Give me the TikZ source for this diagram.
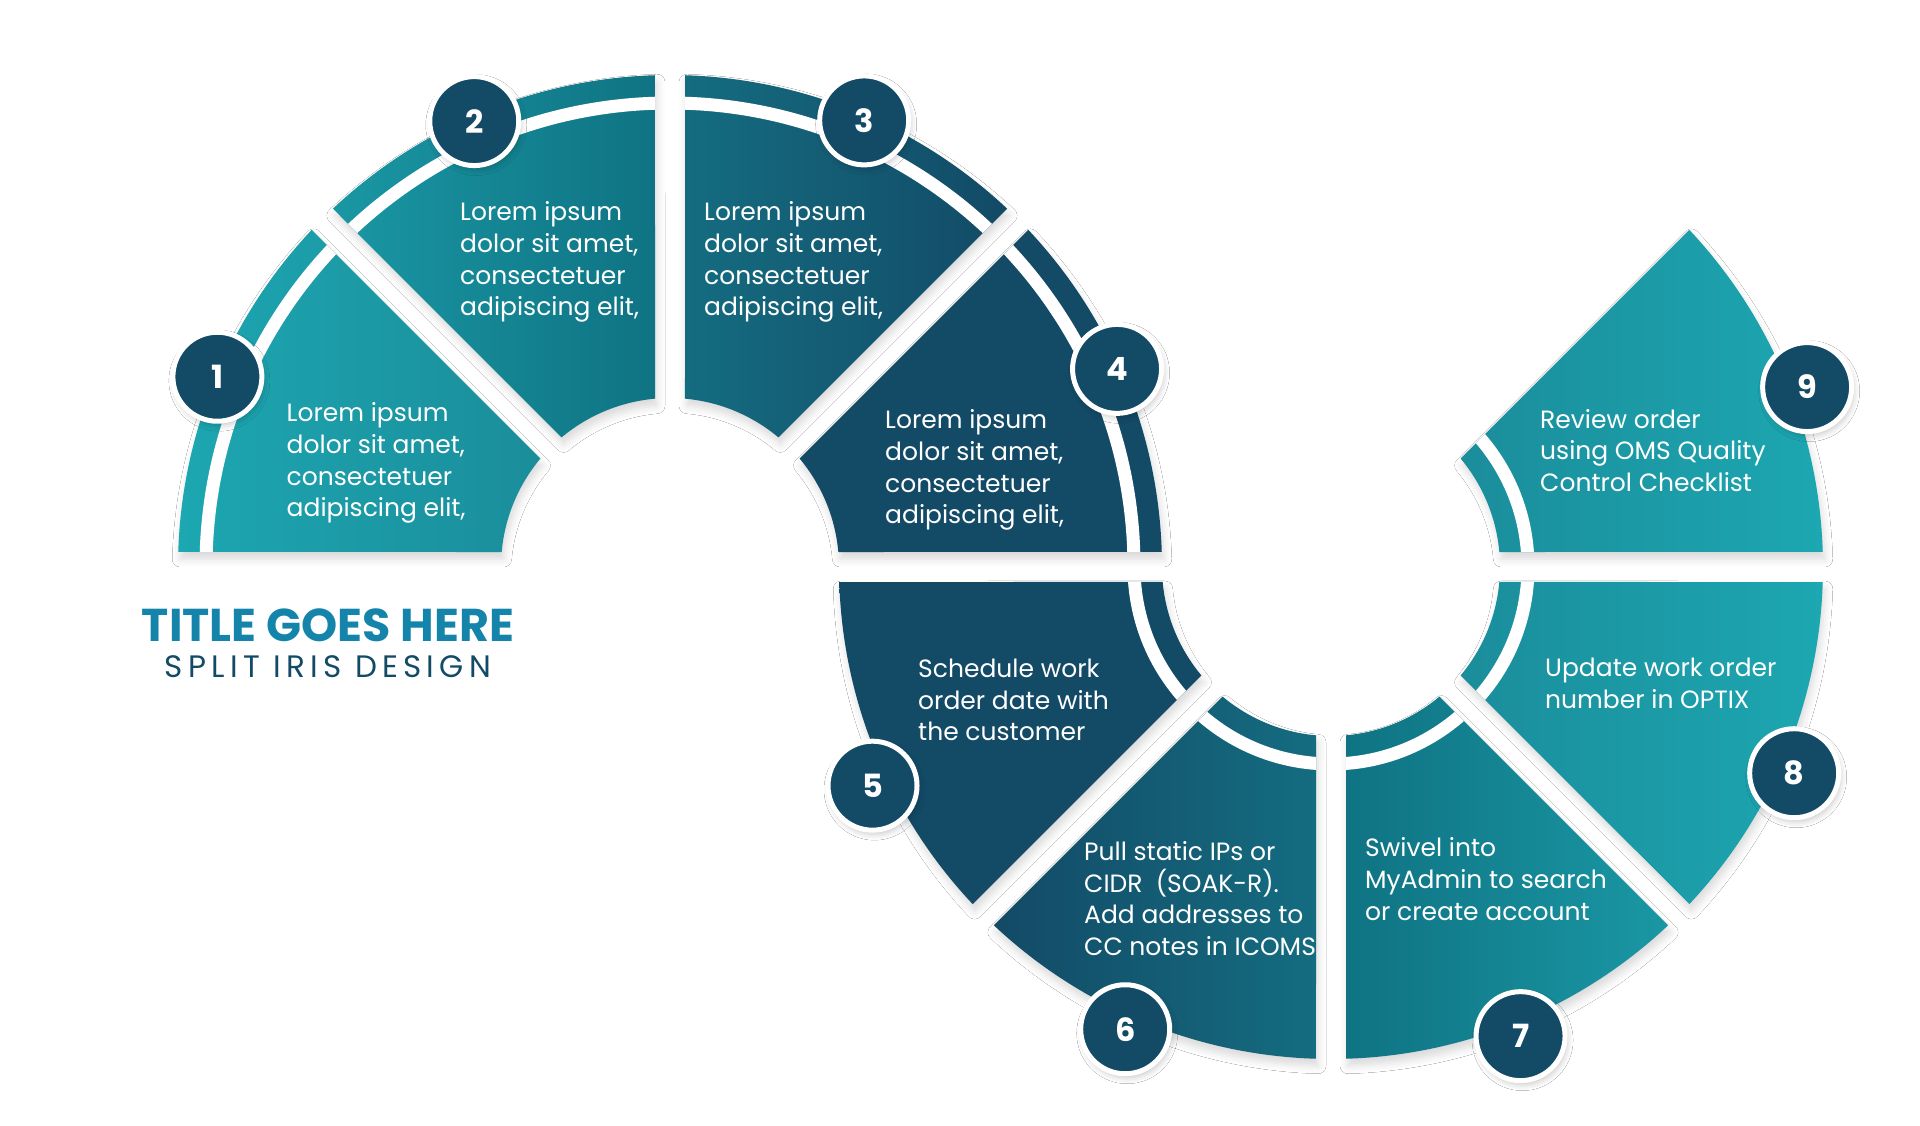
\documentclass[tikz,border=0pt]{standalone}
\usepackage{fontspec}
\setmainfont{Poppins}
\usetikzlibrary{shadows.blur}

\tikzset{
  irisseg/.style={blur shadow={shadow xshift=2pt, shadow yshift=-7pt, shadow blur radius=8pt, shadow opacity=15}},
  stepnum/.style={circle, fill=IrisNavy, draw=white, line width=5pt, minimum size=89pt, inner sep=0pt,
    text=white, font=\fontsize{32}{32}\selectfont\bfseries,
    blur shadow={shadow xshift=2pt, shadow yshift=-4pt, shadow blur radius=6pt, shadow opacity=22}},
  steptext/.style={text=white, align=left, anchor=west, inner sep=0pt, font=\fontsize{25}{31.8}\selectfont},
}

\begin{document}
\begin{tikzpicture}[x=1pt, y=1pt]
    \definecolor{IrisNavy}{HTML}{134A66}
    \definecolor{TealLight}{HTML}{1CA7B1}
    \definecolor{TealMid}{HTML}{1B8D9B}
    \definecolor{TealMidB}{HTML}{1A97A4}
    \definecolor{TealDark}{HTML}{0F7383}
    \definecolor{DeepTeal}{HTML}{146C80}
    \definecolor{TitleBlue}{HTML}{1584AA}
    \useasboundingbox (0,0) rectangle (1920,1125);
    \fill[white] (0,0) rectangle (1920,1125);
    \coordinate (U) at (670,558);
    \coordinate (L) at (1331,558);
    % nine sectors, stripe on the outer side above and on the inner side below
    \foreach \c/\a/\lc/\rc/\sr in {U/135/TealLight/TealMid/464, U/90/TealMidB/TealDark/464,
        U/45/DeepTeal/IrisNavy/464, U/0/IrisNavy/IrisNavy/464, L/180/IrisNavy/IrisNavy/197,
        L/225/IrisNavy/DeepTeal/197, L/270/TealDark/TealMidB/197, L/315/TealMid/TealLight/197,
        L/0/TealMid/TealLight/197}{
        \path[irisseg, left color=\lc, right color=\rc,
              path picture={\draw[white, line width=13pt] (\c) circle[radius=\sr];}]
            ([shift={(\a+1.75:492)}]\c) arc[start angle=\a+1.75, end angle=\a+43.25, radius=492]
            -- ([shift={(\a+39.91:169)}]\c) arc[start angle=\a+39.91, end angle=\a+5.09, radius=169]
            -- cycle;
    }
    \foreach \c/\ang/\rad/\n in {U/157.2/491/1, U/113.7/487/2, U/66.5/487/3, U/23.9/489/4,
        L/205.5/508/5, L/246/506/6, L/292/506/7, L/336/507/8, L/20.7/509/9}{
        \node[stepnum] (num\n) at ([shift={(\ang:\rad)}]\c) {\n};
    }
    \node[steptext] (txt1) at (286.5,662) {Lorem ipsum\\dolor sit amet,\\consectetuer\\adipiscing elit,};
    \node[steptext] (txt2) at (460,863) {Lorem ipsum\\dolor sit amet,\\consectetuer\\adipiscing elit,};
    \node[steptext] (txt3) at (704,863) {Lorem ipsum\\dolor sit amet,\\consectetuer\\adipiscing elit,};
    \node[steptext] (txt4) at (885,655) {Lorem ipsum\\dolor sit amet,\\consectetuer\\adipiscing elit,};
    \node[steptext] (txt5) at (918,425) {Schedule work\\order date with\\the customer};
    \node[steptext] (txt6) at (1084,226.5) {Pull static IPs or\\CIDR~ (SOAK-R).\\Add addresses to\\CC notes in ICOMS};
    \node[steptext] (txt7) at (1365,245.8) {Swivel into\\MyAdmin to search\\or create account};
    \node[steptext] (txt8) at (1545,441.7) {Update work order\\number in OPTIX};
    \node[steptext] (txt9) at (1540,674.4) {Review order\\using OMS Quality\\Control Checklist};
    \node[text=TitleBlue, font=\fontsize{46}{46}\selectfont\bfseries] (title) at (328,500) {TITLE GOES HERE};
    \node[text=IrisNavy, font=\fontsize{31}{31}\selectfont\addfontfeatures{LetterSpace=17}] (subtitle) at (328,458) {SPLIT IRIS DESIGN};
\end{tikzpicture}
\end{document}
